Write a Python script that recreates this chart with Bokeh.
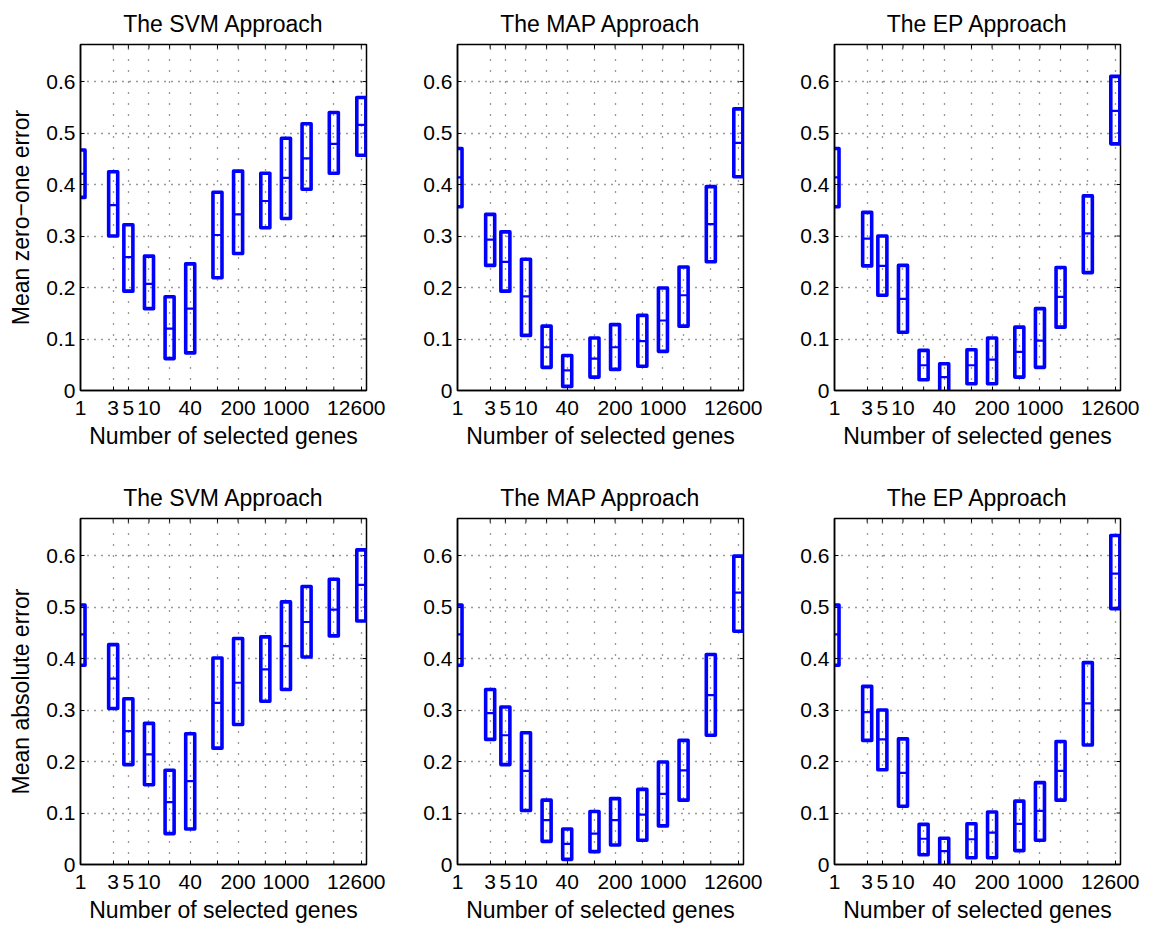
import math
from bokeh.plotting import figure
from bokeh.layouts import column, row
from bokeh.models import Range1d, FixedTicker
from bokeh.embed import file_html
from bokeh.resources import INLINE

# ---------------- data ----------------
genes = [1, 3, 5, 10, 20, 40, 100, 200, 500, 1000, 2000, 5000, 12600]
gene_labels = ["1", "3", "5", "10", "", "40", "", "200", "", "1000", "", "", "12600"]
y_ticks = [0, 0.1, 0.2, 0.3, 0.4, 0.5, 0.6]
y_tick_labels = ["0", "0.1", "0.2", "0.3", "0.4", "0.5", "0.6"]

titles = ["The SVM Approach", "The MAP Approach", "The EP Approach"]
row_ylabels = ["Mean zero\u2212one error", "Mean absolute error"]
xlabel = "Number of selected genes"

# zero-one error
svm01_low = [0.375, 0.300, 0.193, 0.159, 0.062, 0.073, 0.219, 0.266, 0.316, 0.334, 0.391, 0.422, 0.457]
svm01_mid = [0.421, 0.360, 0.259, 0.207, 0.120, 0.159, 0.302, 0.342, 0.368, 0.413, 0.451, 0.479, 0.516]
svm01_high = [0.467, 0.425, 0.322, 0.261, 0.182, 0.246, 0.385, 0.426, 0.422, 0.490, 0.518, 0.540, 0.569]

map01_low = [0.357, 0.243, 0.193, 0.107, 0.045, 0.008, 0.026, 0.041, 0.047, 0.076, 0.125, 0.250, 0.415]
map01_mid = [0.414, 0.293, 0.250, 0.183, 0.084, 0.039, 0.062, 0.084, 0.096, 0.136, 0.185, 0.323, 0.481]
map01_high = [0.470, 0.342, 0.308, 0.255, 0.125, 0.068, 0.102, 0.128, 0.146, 0.199, 0.240, 0.396, 0.547]

ep01_low = [0.357, 0.242, 0.185, 0.113, 0.021, -0.005, 0.013, 0.013, 0.026, 0.045, 0.123, 0.229, 0.479]
ep01_mid = [0.414, 0.295, 0.242, 0.178, 0.049, 0.026, 0.049, 0.060, 0.075, 0.097, 0.182, 0.305, 0.543]
ep01_high = [0.470, 0.346, 0.300, 0.243, 0.078, 0.052, 0.079, 0.102, 0.123, 0.159, 0.239, 0.378, 0.610]

# absolute error
svmabs_low = [0.387, 0.303, 0.194, 0.155, 0.060, 0.069, 0.226, 0.272, 0.317, 0.340, 0.403, 0.444, 0.473]
svmabs_mid = [0.447, 0.361, 0.259, 0.214, 0.121, 0.162, 0.314, 0.353, 0.379, 0.424, 0.471, 0.495, 0.543]
svmabs_high = [0.504, 0.427, 0.322, 0.274, 0.183, 0.254, 0.401, 0.439, 0.442, 0.510, 0.540, 0.554, 0.611]

mapabs_low = [0.387, 0.243, 0.194, 0.105, 0.045, 0.010, 0.025, 0.038, 0.047, 0.075, 0.125, 0.251, 0.453]
mapabs_mid = [0.447, 0.294, 0.251, 0.182, 0.086, 0.040, 0.060, 0.086, 0.097, 0.137, 0.183, 0.329, 0.528]
mapabs_high = [0.504, 0.340, 0.306, 0.256, 0.125, 0.069, 0.103, 0.128, 0.146, 0.199, 0.241, 0.408, 0.599]

epabs_low = [0.387, 0.241, 0.184, 0.113, 0.019, -0.005, 0.013, 0.013, 0.027, 0.047, 0.125, 0.232, 0.497]
epabs_mid = [0.447, 0.296, 0.243, 0.178, 0.050, 0.026, 0.049, 0.062, 0.079, 0.104, 0.182, 0.313, 0.565]
epabs_high = [0.504, 0.346, 0.300, 0.244, 0.078, 0.051, 0.079, 0.102, 0.123, 0.159, 0.239, 0.392, 0.639]

panels = [
    [(svm01_low, svm01_mid, svm01_high), (map01_low, map01_mid, map01_high), (ep01_low, ep01_mid, ep01_high)],
    [(svmabs_low, svmabs_mid, svmabs_high), (mapabs_low, mapabs_mid, mapabs_high), (epabs_low, epabs_mid, epabs_high)],
]

# ---------------- style ----------------
FONT = "Liberation Sans"
BLUE = "#0000ff"
HALF_W = 10 ** 0.066  # box half width factor (log scale)
X_MIN, X_MAX = 1, 15000
Y_MIN, Y_MAX = 0, 0.672

labeled_genes = [g for g, lab in zip(genes, gene_labels) if lab]
unlabeled_genes = [g for g, lab in zip(genes, gene_labels) if not lab]
x_overrides = {g: lab for g, lab in zip(genes, gene_labels) if lab}
y_overrides = {t: lab for t, lab in zip(y_ticks, y_tick_labels)}


def make_panel(r, c, data):
    low, mid, high = data
    top_b = 44
    bot_b = 84 if r == 0 else 63
    left_b = 80 if c == 0 else 72
    p = figure(
        x_axis_type="log",
        frame_width=286, frame_height=346,
        min_border_left=left_b, min_border_right=19,
        min_border_top=top_b, min_border_bottom=bot_b,
        x_range=Range1d(X_MIN, X_MAX), y_range=Range1d(Y_MIN, Y_MAX),
        output_backend="svg", toolbar_location=None,
        background_fill_color="white", border_fill_color="white",
    )
    p.title.text = titles[c]
    p.title.text_font = FONT
    p.title.text_font_size = "23px"
    p.title.text_font_style = "normal"
    p.title.text_color = "black"
    p.title.align = "center"
    p.title.standoff = 16

    p.outline_line_color = "black"
    p.outline_line_width = 1.5
    p.outline_line_alpha = 1.0

    for ax in (p.xaxis[0], p.yaxis[0]):
        ax.major_label_text_font = FONT
        ax.major_label_text_font_size = "21px"
        ax.major_label_text_color = "black"
        ax.axis_label_text_font = FONT
        ax.axis_label_text_font_size = "23px"
        ax.axis_label_text_font_style = "normal"
        ax.axis_label_text_color = "black"
        ax.major_tick_in = 4
        ax.major_tick_out = 0
        ax.minor_tick_in = 0
        ax.minor_tick_out = 0
        ax.axis_line_color = "black"
        ax.axis_line_width = 1.5
        ax.major_tick_line_color = "black"

    p.xaxis[0].ticker = FixedTicker(ticks=labeled_genes)
    p.xaxis[0].major_label_overrides = x_overrides
    p.xaxis[0].axis_label = xlabel
    p.xaxis[0].major_label_standoff = 10
    p.xaxis[0].axis_label_standoff = 5
    p.yaxis[0].ticker = FixedTicker(ticks=y_ticks)
    p.yaxis[0].major_label_overrides = y_overrides
    p.yaxis[0].major_label_standoff = 5
    p.yaxis[0].axis_label_standoff = 9
    if c == 0:
        p.yaxis[0].axis_label = row_ylabels[r]

    # grid
    p.xgrid.ticker = FixedTicker(ticks=genes)
    p.ygrid.ticker = FixedTicker(ticks=y_ticks)
    p.xgrid.grid_line_color = "black"
    p.xgrid.grid_line_dash = "1 10"
    p.xgrid.grid_line_width = 1.3
    p.xgrid.grid_line_alpha = 0.8
    p.ygrid.grid_line_color = "black"
    p.ygrid.grid_line_dash = "1 6"
    p.ygrid.grid_line_width = 1.3
    p.ygrid.grid_line_alpha = 0.8

    # inward tick marks on the other frame edges (half of each dash is clipped)
    p.scatter(x=genes, y=[Y_MAX] * len(genes), marker="dash", angle=math.pi / 2,
              size=8, line_color="black", line_width=1)
    p.scatter(x=unlabeled_genes, y=[Y_MIN] * len(unlabeled_genes), marker="dash",
              angle=math.pi / 2, size=8, line_color="black", line_width=1)
    p.scatter(x=[X_MAX] * len(y_ticks), y=y_ticks, marker="dash",
              size=8, line_color="black", line_width=1)

    lefts = [g / HALF_W for g in genes]
    rights = [g * HALF_W for g in genes]
    p.quad(left=lefts, right=rights, bottom=low, top=high,
           fill_color=None, line_color=BLUE, line_width=3.6, line_join="round")
    p.segment(x0=lefts, x1=rights, y0=mid, y1=mid, line_color=BLUE, line_width=2.2)
    return p


rows = []
for r in range(2):
    rows.append(row(*[make_panel(r, c, panels[r][c]) for c in range(3)]))
layout = column(*rows)

open("out.html", "w").write(file_html(layout, INLINE))
